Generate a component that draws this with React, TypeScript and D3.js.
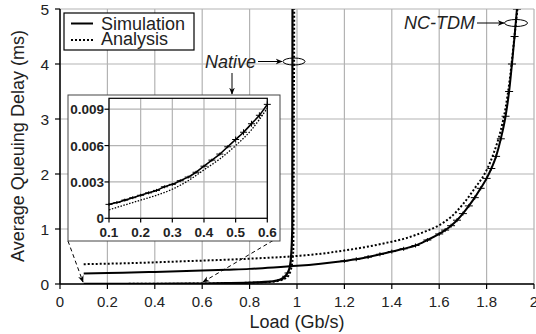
import React from "react";
import * as d3 from "d3";

// ---------- data ----------
const xTicks = [0, 0.2, 0.4, 0.6, 0.8, 1, 1.2, 1.4, 1.6, 1.8, 2];
const yTicks = [0, 1, 2, 3, 4, 5];
const insetXTicks = [0.1, 0.2, 0.3, 0.4, 0.5, 0.6];
const insetYTicks = [0, 0.003, 0.006, 0.009];
const insetYLabels = ["0", "0.003", "0.006", "0.009"];

// NC-TDM simulation
const ncSimLoad = [0.1, 0.2, 0.3, 0.4, 0.5, 0.6, 0.7, 0.8, 0.9, 1.0, 1.1, 1.2, 1.25, 1.3, 1.35, 1.4, 1.45, 1.5, 1.55, 1.6, 1.625, 1.65, 1.675, 1.7, 1.725, 1.75, 1.775, 1.8, 1.82, 1.84, 1.86, 1.88, 1.895, 1.907, 1.918, 1.928];
const ncSimDelay = [0.19, 0.2, 0.21, 0.22, 0.23, 0.245, 0.26, 0.275, 0.3, 0.33, 0.37, 0.42, 0.45, 0.49, 0.54, 0.59, 0.64, 0.7, 0.8, 0.91, 0.98, 1.06, 1.16, 1.28, 1.42, 1.57, 1.74, 1.92, 2.1, 2.32, 2.64, 3.05, 3.5, 4.0, 4.5, 5.0];
// NC-TDM analysis
const ncAnaLoad = [0.1, 0.3, 0.5, 0.8, 1.0, 1.1, 1.2, 1.3, 1.4, 1.45, 1.5, 1.55, 1.6, 1.65, 1.7, 1.75, 1.8, 1.83, 1.86, 1.88, 1.9, 1.915, 1.93];
const ncAnaDelay = [0.36, 0.38, 0.41, 0.46, 0.51, 0.55, 0.61, 0.68, 0.77, 0.82, 0.89, 0.97, 1.07, 1.22, 1.45, 1.74, 2.07, 2.38, 2.8, 3.2, 3.8, 4.4, 5.0];
// Native simulation (main plot)
const nvSimLoad = [0.1, 0.2, 0.3, 0.4, 0.5, 0.6, 0.7, 0.8, 0.85, 0.9, 0.93, 0.95, 0.96, 0.97, 0.975, 0.98, 0.981];
const nvSimDelay = [0.0012, 0.002, 0.0029, 0.0044, 0.0065, 0.0094, 0.015, 0.025, 0.035, 0.05, 0.08, 0.14, 0.2, 0.32, 0.5, 1.0, 5.0];
// Native analysis (main plot)
const nvAnaLoad = [0.1, 0.3, 0.5, 0.6, 0.7, 0.8, 0.9, 0.95, 0.97, 0.98, 0.984];
const nvAnaDelay = [0.0007, 0.0025, 0.006, 0.0091, 0.014, 0.024, 0.045, 0.11, 0.26, 0.6, 5.0];
// Inset: native simulation detail
const inSimLoad = [0.1, 0.125, 0.15, 0.175, 0.2, 0.225, 0.25, 0.275, 0.3, 0.325, 0.35, 0.375, 0.4, 0.425, 0.45, 0.475, 0.5, 0.525, 0.55, 0.575, 0.6];
const inSimDelay = [0.00115, 0.0013, 0.0015, 0.0017, 0.0019, 0.0021, 0.0023, 0.0026, 0.0028, 0.0031, 0.0034, 0.0038, 0.0043, 0.0048, 0.0053, 0.0059, 0.0065, 0.0071, 0.0078, 0.0085, 0.0094];
// Inset: native analysis detail
const inAnaLoad = [0.1, 0.15, 0.2, 0.25, 0.3, 0.35, 0.4, 0.45, 0.5, 0.55, 0.6];
const inAnaDelay = [0.0007, 0.0011, 0.0015, 0.0019, 0.0024, 0.0031, 0.004, 0.0049, 0.006, 0.0073, 0.0091];

const FONT = "'Liberation Sans', Arial, sans-serif";

export default function App() {
  const W = 536, H = 334;
  const x = d3.scaleLinear().domain([0, 2]).range([60, 534]);
  const y = d3.scaleLinear().domain([0, 5]).range([284, 9]);

  const ix = d3.scaleLinear().domain([0.1, 0.6]).range([109, 267.3]);
  const iy = d3.scaleLinear().domain([0, 0.0099]).range([218.3, 98.3]);

  const mk = (xs: number[], ys: number[], sx: any, sy: any) =>
    d3.line<number>().x((_, i) => sx(xs[i])).y((_, i) => sy(ys[i])).curve(d3.curveMonotoneX)(xs) || "";

  const ncSim = mk(ncSimLoad, ncSimDelay, x, y);
  const ncAna = mk(ncAnaLoad, ncAnaDelay, x, y);
  const nvSim = mk(nvSimLoad, nvSimDelay, x, y);
  const nvAna = mk(nvAnaLoad, nvAnaDelay, x, y);
  const inSim = mk(inSimLoad, inSimDelay, ix, iy);
  const inAna = mk(inAnaLoad, inAnaDelay, ix, iy);

  const grid = "#b3b3b3";

  return (
    <svg width={W} height={H} style={{ position: "absolute", left: 0, top: 0 }} fontFamily={FONT}>
      <defs>
        <clipPath id="plot">
          <rect x={60} y={9} width={474} height={275} />
        </clipPath>
        <clipPath id="inset">
          <rect x={109} y={98.3} width={158.3} height={120} />
        </clipPath>
        <marker id="arr" viewBox="0 0 10 10" refX="9" refY="5" markerWidth="7" markerHeight="7" orient="auto-start-reverse">
          <path d="M0,1 L10,5 L0,9 L3,5 z" fill="#000" />
        </marker>
      </defs>
      <rect x={0} y={0} width={W} height={H} fill="#fff" />

      {/* grid */}
      {xTicks.map((t) => (
        <line key={"gx" + t} x1={x(t)} x2={x(t)} y1={y(5)} y2={y(0)} stroke={grid} strokeWidth={1.2} />
      ))}
      {yTicks.map((t) => (
        <line key={"gy" + t} x1={x(0)} x2={x(2)} y1={y(t)} y2={y(t)} stroke={grid} strokeWidth={1.2} />
      ))}

      {/* axes */}
      <line x1={x(0)} x2={x(0)} y1={y(5)} y2={y(0)} stroke="#000" strokeWidth={1.5} />
      <line x1={x(0)} x2={x(2)} y1={y(0)} y2={y(0)} stroke="#000" strokeWidth={1.5} />
      {xTicks.map((t) => (
        <g key={"tx" + t}>
          <line x1={x(t)} x2={x(t)} y1={y(0)} y2={y(0) + 5} stroke="#000" strokeWidth={1.2} />
          <text x={x(t)} y={307} fontSize={15} textAnchor="middle" fill="#222">{String(t)}</text>
        </g>
      ))}
      {yTicks.map((t) => (
        <g key={"ty" + t}>
          <line x1={x(0) - 5} x2={x(0)} y1={y(t)} y2={y(t)} stroke="#000" strokeWidth={1.2} />
          <text x={49} y={y(t) + 5.5} fontSize={15.5} textAnchor="end" fill="#222">{String(t)}</text>
        </g>
      ))}
      <text x={297} y={328} fontSize={18} textAnchor="middle" fill="#222">Load (Gb/s)</text>
      <text transform="translate(24,146) rotate(-90)" fontSize={18} textAnchor="middle" fill="#222">Average Queuing Delay (ms)</text>

      {/* curves */}
      <g clipPath="url(#plot)" fill="none">
        <path d={ncAna} stroke="#000" strokeWidth={2} strokeDasharray="2,2" />
        <path d={ncSim} stroke="#000" strokeWidth={2} />
        <path d={nvAna} stroke="#000" strokeWidth={2} strokeDasharray="2,2" transform="translate(1,0)" />
        <path d={nvSim} stroke="#000" strokeWidth={2.2} />
        {ncSimLoad.map((l, i) =>
          l >= 1.2 ? (
            <g key={"eb" + i}>
              <line x1={x(l) - 4} x2={x(l) + 4} y1={y(ncSimDelay[i])} y2={y(ncSimDelay[i])} stroke="#000" strokeWidth={1} />
              <line x1={x(l)} x2={x(l)} y1={y(ncSimDelay[i]) - 2} y2={y(ncSimDelay[i]) + 2} stroke="#000" strokeWidth={1} />
            </g>
          ) : null
        )}
        {nvSimLoad.map((l, i) =>
          l >= 0.93 && l <= 0.97 ? (
            <line key={"nb" + i} x1={x(l) - 3} x2={x(l) + 3} y1={y(nvSimDelay[i])} y2={y(nvSimDelay[i])} stroke="#000" strokeWidth={1} />
          ) : null
        )}
      </g>

      {/* zoom connectors */}
      <line x1={68} y1={241} x2={83} y2={282} stroke="#000" strokeWidth={1} strokeDasharray="4,3" markerEnd="url(#arr)" />
      <line x1={279} y1={237} x2={203} y2={282} stroke="#000" strokeWidth={1} strokeDasharray="4,3" markerEnd="url(#arr)" />

      {/* inset */}
      <rect x={68} y={95} width={212} height={146} fill="#fff" stroke="#444" strokeWidth={1} />
      {insetXTicks.map((t) => (
        <line key={"igx" + t} x1={ix(t)} x2={ix(t)} y1={98.3} y2={218.3} stroke={grid} strokeWidth={1.2} />
      ))}
      {insetYTicks.map((t) => (
        <line key={"igy" + t} x1={109} x2={267.3} y1={iy(t)} y2={iy(t)} stroke={grid} strokeWidth={1.2} />
      ))}
      <rect x={109} y={98.3} width={158.3} height={120} fill="none" stroke="#000" strokeWidth={1.2} />
      {insetXTicks.map((t) => (
        <g key={"itx" + t}>
          <line x1={ix(t)} x2={ix(t)} y1={218.3} y2={222.5} stroke="#000" strokeWidth={1.2} />
          <text x={ix(t)} y={236.5} fontSize={13.5} fontWeight="bold" textAnchor="middle" fill="#222">{String(t)}</text>
        </g>
      ))}
      {insetYTicks.map((t, i) => (
        <g key={"ity" + t}>
          <line x1={104.5} x2={109} y1={iy(t)} y2={iy(t)} stroke="#000" strokeWidth={1.2} />
          <text x={104} y={iy(t) + 5} fontSize={13.5} fontWeight="bold" textAnchor="end" fill="#222">{insetYLabels[i]}</text>
        </g>
      ))}
      <g clipPath="url(#inset)" fill="none">
        <path d={inAna} stroke="#000" strokeWidth={1.3} strokeDasharray="1.5,1.5" />
        <path d={inSim} stroke="#000" strokeWidth={1.6} />
      </g>
      {inSimLoad.map((l, i) => (
        <g key={"ie" + i}>
          <line x1={ix(l) - 3.5} x2={ix(l) + 3.5} y1={iy(inSimDelay[i])} y2={iy(inSimDelay[i])} stroke="#000" strokeWidth={1} />
          <line x1={ix(l)} x2={ix(l)} y1={iy(inSimDelay[i]) - (i > 15 ? 3 : 1.5)} y2={iy(inSimDelay[i]) + (i > 15 ? 3 : 1.5)} stroke="#000" strokeWidth={1} />
        </g>
      ))}

      {/* legend */}
      <rect x={64} y={13} width={130} height={37} fill="#fff" stroke="#000" strokeWidth={1.2} />
      <line x1={71} x2={93} y1={23.5} y2={23.5} stroke="#000" strokeWidth={2} />
      <line x1={71} x2={93} y1={40} y2={40} stroke="#000" strokeWidth={2} strokeDasharray="2,2" />
      <text x={101} y={30} fontSize={18} fill="#222">Simulation</text>
      <text x={101} y={44.5} fontSize={18} fill="#222">Analysis</text>

      {/* annotations */}
      <text x={205} y={67.5} fontSize={18} fontStyle="italic" fill="#222">Native</text>
      <line x1={258} y1={61.5} x2={282} y2={61.5} stroke="#000" strokeWidth={1} markerEnd="url(#arr)" />
      <ellipse cx={294} cy={61.5} rx={11} ry={3.5} fill="none" stroke="#000" strokeWidth={1} />
      <line x1={232} y1={73} x2={232} y2={94} stroke="#000" strokeWidth={1} markerEnd="url(#arr)" />

      <text x={404} y={29} fontSize={18} fontStyle="italic" fill="#222">NC-TDM</text>
      <line x1={477} y1={23} x2={504} y2={23} stroke="#000" strokeWidth={1} markerEnd="url(#arr)" />
      <ellipse cx={516} cy={23} rx={11.5} ry={3.5} fill="none" stroke="#000" strokeWidth={1} />
    </svg>
  );
}
